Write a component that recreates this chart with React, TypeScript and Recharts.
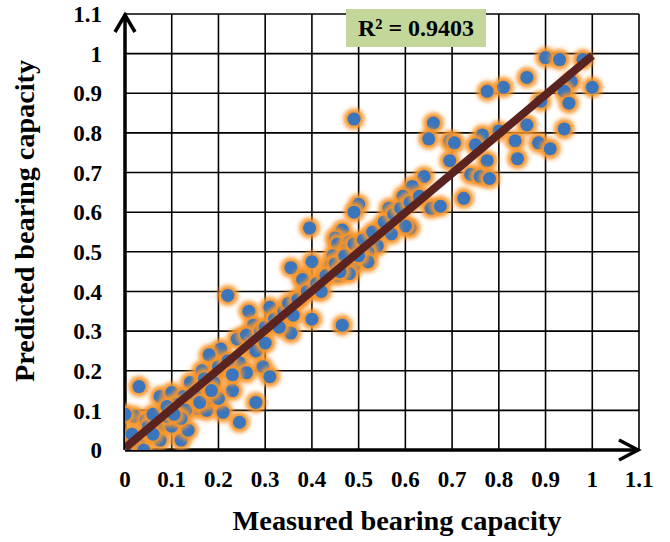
import React from "react";
import {
  ScatterChart,
  Scatter,
  XAxis,
  YAxis,
  CartesianGrid,
  ReferenceDot,
} from "recharts";

// values
const measured = [
  0.9, 0.93, 0.98, 0.86, 0.81, 0.775, 1.0, 0.955, 0.94, 0.95, 0.89, 0.86, 0.94, 0.8, 0.765, 0.835, 0.885, 0.91, 0.775, 0.84,
  0.66, 0.65, 0.695, 0.705, 0.75, 0.695, 0.74, 0.76, 0.78, 0.64, 0.615, 0.595, 0.725, 0.655, 0.675, 0.61,
  0.565, 0.5, 0.49, 0.395, 0.6, 0.55, 0.57, 0.465, 0.45, 0.455, 0.48, 0.515, 0.54, 0.52, 0.495, 0.475, 0.4, 0.445, 0.44,
  0.465, 0.49, 0.52, 0.38, 0.455, 0.48, 0.425, 0.355, 0.38, 0.22, 0.265, 0.31, 0.4, 0.465, 0.275, 0.255, 0.205, 0.18,
  0.355, 0.33, 0.375, 0.41, 0.49,
  0.03, 0.02, 0.0, 0.045, 0.005, 0.03, 0.075, 0.12, 0.135, 0.08, 0.1, 0.075, 0.1, 0.14, 0.155, 0.175, 0.18, 0.21, 0.245,
  0.23, 0.28, 0.195, 0.165, 0.165, 0.125, 0.245, 0.24, 0.26, 0.295, 0.31, 0.26, 0.04, 0.0,
  0.05, 0.09, 0.11, 0.15, 0.17, 0.2, 0.22, 0.27, 0.29, 0.3, 0.32, 0.34, 0.35, 0.37, 0.39, 0.41, 0.43, 0.45, 0.47, 0.49,
  0.51, 0.53, 0.555, 0.575, 0.59, 0.61, 0.63, 0.36, 0.42, 0.46, 0.5, 0.06, 0.13, 0.19,
  0.06, 0.12, 0.09, 0.2, 0.16, 0.23, 0.28, 0.3, 0.33, 0.015, 0.105, 0.185,
];
const predicted = [
  0.99, 0.985, 0.985, 0.94, 0.915, 0.905, 0.915, 0.93, 0.905, 0.875, 0.88, 0.82, 0.81, 0.805, 0.795, 0.78, 0.775, 0.76, 0.73, 0.735,
  0.825, 0.785, 0.78, 0.775, 0.77, 0.73, 0.695, 0.69, 0.685, 0.69, 0.665, 0.64, 0.635, 0.61, 0.615, 0.56,
  0.61, 0.62, 0.6, 0.56, 0.565, 0.56, 0.545, 0.555, 0.535, 0.52, 0.525, 0.525, 0.515, 0.5, 0.5, 0.505, 0.475, 0.49, 0.465,
  0.465, 0.465, 0.475, 0.435, 0.44, 0.445, 0.435, 0.46, 0.43, 0.39, 0.35, 0.36, 0.33, 0.315, 0.315, 0.285, 0.255, 0.24,
  0.295, 0.335, 0.385, 0.405, 0.835,
  0.16, 0.085, 0.09, 0.075, 0.01, 0.015, 0.025, 0.025, 0.05, 0.065, 0.06, 0.135, 0.145, 0.17, 0.105, 0.1, 0.13, 0.095, 0.07,
  0.15, 0.12, 0.2, 0.2, 0.16, 0.135, 0.22, 0.28, 0.29, 0.21, 0.185, 0.195, 0.0, 0.0,
  0.06, 0.085, 0.115, 0.14, 0.18, 0.21, 0.225, 0.26, 0.3, 0.31, 0.33, 0.35, 0.37, 0.38, 0.4, 0.42, 0.44, 0.47, 0.49, 0.52,
  0.53, 0.55, 0.575, 0.595, 0.61, 0.625, 0.64, 0.34, 0.4, 0.45, 0.49, 0.04, 0.1, 0.17,
  0.09, 0.08, 0.11, 0.13, 0.12, 0.19, 0.25, 0.27, 0.31, 0.04, 0.09, 0.15,
];
const trendX = [0, 1];
const trendY = [0.005, 0.995];
const ticks = [0, 0.1, 0.2, 0.3, 0.4, 0.5, 0.6, 0.7, 0.8, 0.9, 1, 1.1];
const rSquared = "R² = 0.9403";

const points = measured.map((x, i) => ({ x, y: predicted[i] }));
const trend = trendX.map((x, i) => ({ x, y: trendY[i] }));

const serif = "'Liberation Serif', 'Times New Roman', serif";
const tickStyle = { fill: "#000", fontSize: 23, fontWeight: 700, fontFamily: serif };

const Dot = (props: any) => {
  const { cx, cy } = props;
  if (cx == null || cy == null) return null;
  return (
    <g>
      <circle cx={cx} cy={cy} r={10.5} fill="#f7942c" filter="url(#glow)" />
      <circle cx={cx} cy={cy} r={6.5} fill="#3b76bc" />
    </g>
  );
};

const UpArrow = (props: any) => (
  <polyline
    points={`${props.cx - 10},${props.cy + 18} ${props.cx},${props.cy + 1} ${props.cx + 10},${props.cy + 18}`}
    fill="none"
    stroke="#000"
    strokeWidth={3.5}
  />
);

const RightArrow = (props: any) => (
  <polyline
    points={`${props.cx - 20},${props.cy - 10} ${props.cx - 1},${props.cy} ${props.cx - 20},${props.cy + 10}`}
    fill="none"
    stroke="#000"
    strokeWidth={3.5}
  />
);

export default function App() {
  return (
    <div style={{ position: "absolute", left: 0, top: 0, width: 670, height: 542, background: "#fff" }}>
      <svg width={0} height={0} style={{ position: "absolute" }}>
        <defs>
          <filter id="glow" x="-60%" y="-60%" width="220%" height="220%">
            <feGaussianBlur stdDeviation={1.9} />
          </filter>
        </defs>
      </svg>
      <ScatterChart
        width={670}
        height={542}
        margin={{ top: 14, right: 31, bottom: 0, left: 25 }}
      >
        <CartesianGrid stroke="#000" strokeWidth={1.6} />
        <XAxis
          type="number"
          dataKey="x"
          domain={[0, 1.1]}
          ticks={ticks}
          allowDataOverflow
          height={92}
          tickSize={0}
          tickMargin={21}
          tick={tickStyle}
          axisLine={{ stroke: "#000", strokeWidth: 3.5 }}
          label={{
            content: () => (
              <text
                x={397}
                y={530}
                textAnchor="middle"
                fontFamily={serif}
                fontWeight={700}
                fontSize={28}
                textLength={329}
                lengthAdjust="spacingAndGlyphs"
                fill="#000"
              >
                Measured bearing capacity
              </text>
            ),
          }}
        />
        <YAxis
          type="number"
          dataKey="y"
          domain={[0, 1.1]}
          ticks={ticks}
          allowDataOverflow
          width={100}
          tickSize={0}
          tickMargin={23}
          tick={tickStyle}
          axisLine={{ stroke: "#000", strokeWidth: 3.5 }}
          label={{
            content: () => (
              <text
                x={34}
                y={221}
                transform="rotate(-90, 34, 221)"
                textAnchor="middle"
                fontFamily={serif}
                fontWeight={700}
                fontSize={28}
                textLength={322}
                lengthAdjust="spacingAndGlyphs"
                fill="#000"
              >
                Predicted bearing capacity
              </text>
            ),
          }}
        />
        <Scatter data={points} shape={Dot} isAnimationActive={false} />
        <Scatter
          data={trend}
          line={{ stroke: "#5a2320", strokeWidth: 8 }}
          shape={() => <g />}
          isAnimationActive={false}
        />
        <ReferenceDot x={0} y={1.1} ifOverflow="visible" shape={UpArrow} />
        <ReferenceDot x={1.1} y={0} ifOverflow="visible" shape={RightArrow} />
      </ScatterChart>
      <div
        style={{
          position: "absolute",
          left: 346,
          top: 9,
          width: 140,
          height: 38,
          background: "#c4d79b",
          fontFamily: serif,
          fontWeight: 700,
          fontSize: 24,
          lineHeight: "38px",
          textAlign: "center",
          color: "#000",
        }}
      >
        {rSquared}
      </div>
    </div>
  );
}
